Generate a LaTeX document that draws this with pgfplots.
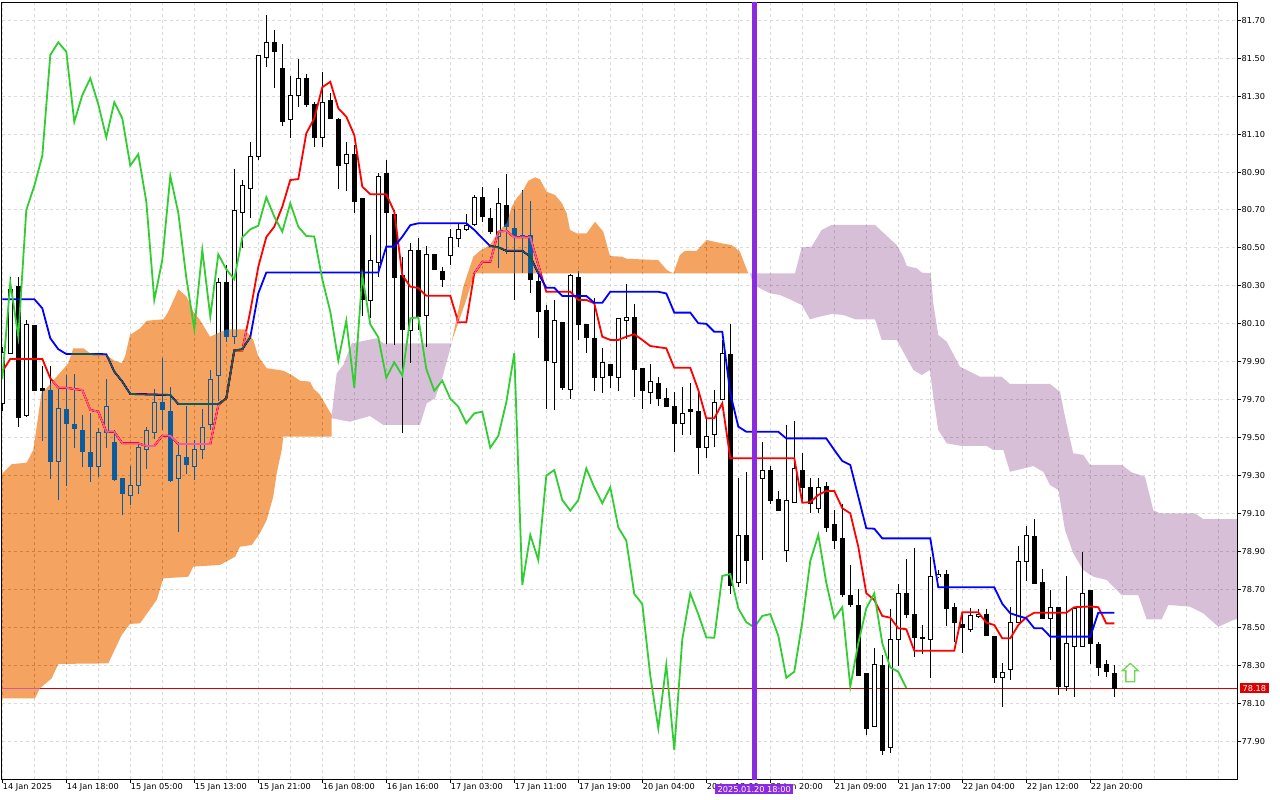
\documentclass[border=0pt]{standalone}
\usepackage{fontspec}
\setmainfont{DejaVu Sans}
\usepackage{pgfplots}
\usepackage{pgfplotstable}
\pgfplotsset{compat=1.18}
\definecolor{xorange}{RGB}{11,91,159}
\definecolor{thistle}{RGB}{216,191,216}
\definecolor{chik}{RGB}{50,205,50}
\definecolor{bviolet}{RGB}{138,43,226}
\definecolor{bidred}{RGB}{220,0,0}
\definecolor{gridc}{RGB}{218,218,218}
\definecolor{arrowc}{RGB}{110,215,80}
\newcommand{\lblfont}{\fontsize{8.2bp}{9bp}\selectfont}

\pgfplotstableread{
k o h l c
0 79.68 79.98 79.64 79.95
1 79.945 80.348 79.94 80.28
2 80.299 80.348 79.558 79.607
3 79.616 80.12 79.61 80.097
4 80.089 80.097 79.75 79.751
5 79.76 79.878 79.482 79.751
6 79.751 79.878 79.286 79.373
7 79.373 79.76 79.171 79.655
8 79.651 79.83 79.245 79.576
9 79.567 79.839 79.447 79.549
10 79.54 79.619 79.347 79.426
11 79.421 79.632 79.268 79.347
12 79.347 79.55 79.294 79.528
13 79.526 79.81 79.444 79.667
14 79.475 79.54 79.271 79.282
15 79.286 79.286 79.092 79.207
16 79.194 79.35 79.149 79.247
17 79.247 79.473 79.203 79.449
18 79.44 79.555 79.336 79.537
19 79.528 79.755 79.493 79.686
20 79.686 79.918 79.54 79.65
21 79.64 79.769 79.268 79.273
22 79.286 79.479 79.004 79.405
23 79.396 79.667 79.307 79.357
24 79.347 79.487 79.277 79.439
25 79.439 79.651 79.386 79.554
26 79.567 79.857 79.54 79.808
27 79.829 80.34 79.693 80.317
28 80.317 80.41 80.006 80.032
29 80.032 80.916 79.997 80.70
30 80.688 80.858 80.498 80.827
31 80.814 81.057 80.656 80.985
32 80.981 81.52 80.967 81.517
33 81.505 81.728 81.455 81.584
34 81.584 81.649 81.345 81.534
35 81.447 81.575 81.144 81.165
36 81.178 81.406 81.078 81.305
37 81.306 81.494 81.245 81.394
38 81.394 81.417 81.245 81.257
39 81.257 81.271 81.034 81.083
40 81.083 81.429 81.034 81.268
41 81.275 81.318 81.18 81.183
42 81.18 81.183 80.811 80.934
43 80.946 81.057 80.80 80.994
44 80.994 81.046 80.686 80.744
45 80.758 80.758 80.143 80.226
46 80.222 80.568 80.132 80.436
47 80.422 80.893 80.348 80.879
48 80.89 80.967 79.997 80.686
49 80.677 80.70 79.988 80.343
50 80.357 80.454 79.523 80.073
51 80.067 80.524 79.892 80.489
52 80.489 80.556 80.067 80.138
53 80.147 80.51 79.98 80.466
54 80.466 80.466 80.387 80.387
55 80.378 80.401 80.296 80.335
56 80.458 80.598 80.41 80.556
57 80.551 80.626 80.507 80.598
58 80.60 80.683 80.59 80.617
59 80.626 80.779 80.616 80.767
60 80.767 80.82 80.635 80.665
61 80.656 80.714 80.574 80.586
62 80.559 80.814 80.393 80.735
63 80.726 80.89 80.468 80.612
64 80.604 80.704 80.226 80.563
65 80.565 80.805 80.366 80.56
66 80.568 80.749 80.264 80.335
67 80.326 80.357 80.027 80.164
68 80.168 80.199 79.651 79.906
69 79.897 80.226 79.646 80.116
70 80.108 80.11 79.751 79.763
71 79.755 80.366 79.704 80.354
72 80.345 80.38 80.015 80.097
73 80.099 80.10 79.945 80.029
74 80.02 80.235 79.747 79.816
75 79.818 79.976 79.737 79.897
76 79.888 79.89 79.763 79.827
77 79.818 80.129 79.747 80.129
78 80.12 80.31 80.02 80.134
79 80.134 80.208 79.716 79.862
80 79.865 79.866 79.655 79.747
81 79.739 79.888 79.677 79.80
82 79.786 79.818 79.668 79.705
83 79.707 79.765 79.663 79.663
84 79.663 79.742 79.426 79.576
85 79.576 79.769 79.514 79.628
86 79.649 79.79 79.514 79.637
87 79.637 79.751 79.308 79.447
88 79.449 79.602 79.396 79.509
89 79.518 79.751 79.449 79.686
90 79.70 80.015 79.70 79.945
91 79.939 80.099 78.676 78.723
92 78.735 79.289 78.714 78.987
93 78.987 79.32 78.732 78.855
94 78.855 79.35 78.80 79.30
95 79.286 79.479 78.855 79.329
96 79.329 79.352 79.149 79.171
97 79.176 79.219 79.115 79.115
98 78.908 79.567 78.846 79.171
99 79.157 79.589 79.157 79.338
100 79.329 79.417 79.154 79.238
101 79.238 79.286 79.104 79.154
102 79.128 79.286 79.101 79.238
103 79.241 79.268 79.004 79.027
104 79.04 79.119 78.913 78.957
105 78.969 79.149 78.658 78.676
106 78.67 78.829 78.606 78.623
107 78.618 78.706 78.245 78.245
108 78.258 78.258 77.933 77.968
109 77.976 78.39 77.976 78.302
110 78.302 78.354 77.827 77.853
111 77.866 78.60 77.839 78.437
112 78.437 78.727 78.296 78.679
113 78.679 78.859 78.551 78.569
114 78.569 78.917 78.345 78.447
115 78.447 78.512 78.363 78.445
116 78.437 78.872 78.234 78.771
117 78.767 78.802 78.76 78.781
118 78.781 78.802 78.507 78.60
119 78.606 78.627 78.424 78.527
120 78.518 78.583 78.368 78.50
121 78.49 78.60 78.477 78.56
122 78.556 78.60 78.55 78.57
123 78.57 78.595 78.456 78.456
124 78.451 78.451 78.208 78.234
125 78.237 78.31 78.079 78.266
126 78.279 78.606 78.222 78.527
127 78.527 78.929 78.527 78.85
128 78.846 79.034 78.746 78.987
129 78.982 79.069 78.735 78.735
130 78.737 78.806 78.548 78.548
131 78.548 78.70 78.328 78.606
132 78.606 78.606 78.147 78.187
133 78.187 78.771 78.164 78.416
134 78.398 78.60 78.134 78.60
135 78.398 78.899 78.398 78.679
136 78.692 78.692 78.307 78.416
137 78.411 78.424 78.245 78.289
138 78.302 78.328 78.24 78.266
139 78.258 78.302 78.134 78.18
}\candles

\pgfplotstableread{
k v
0 79.808
1 80.317
2 80.032
3 80.70
4 80.827
5 80.985
6 81.517
7 81.584
8 81.534
9 81.165
10 81.305
11 81.394
12 81.257
13 81.083
14 81.268
15 81.183
16 80.934
17 80.994
18 80.744
19 80.226
20 80.436
21 80.879
22 80.686
23 80.343
24 80.073
25 80.489
26 80.138
27 80.466
28 80.387
29 80.335
30 80.556
31 80.598
32 80.617
33 80.767
34 80.665
35 80.586
36 80.735
37 80.612
38 80.563
39 80.56
40 80.335
41 80.164
42 79.906
43 80.116
44 79.763
45 80.354
46 80.097
47 80.029
48 79.816
49 79.897
50 79.827
51 80.129
52 80.134
53 79.862
54 79.747
55 79.80
56 79.705
57 79.663
58 79.576
59 79.628
60 79.637
61 79.447
62 79.509
63 79.686
64 79.945
65 78.723
66 78.987
67 78.855
68 79.30
69 79.329
70 79.171
71 79.115
72 79.171
73 79.338
74 79.238
75 79.154
76 79.238
77 79.027
78 78.957
79 78.676
80 78.623
81 78.245
82 77.968
83 78.302
84 77.853
85 78.437
86 78.679
87 78.569
88 78.447
89 78.445
90 78.771
91 78.781
92 78.60
93 78.527
94 78.50
95 78.56
96 78.57
97 78.456
98 78.234
99 78.266
100 78.527
101 78.85
102 78.987
103 78.735
104 78.548
105 78.606
106 78.187
107 78.416
108 78.60
109 78.679
110 78.416
111 78.289
112 78.266
113 78.18
}\chikou

\begin{document}
\begin{tikzpicture}
\useasboundingbox (0,0) rectangle (1280bp,800bp);
\fill[white] (0,0) rectangle (1280bp,800bp);
\begin{axis}[
  at={(2bp,21bp)}, anchor=south west,
  scale only axis, width=1235bp, height=776.7bp,
  xmin=-0.0375, xmax=154.34, ymin=77.7005, ymax=81.7949,
  clip mode=individual,
  axis line style={black, line width=1bp},
  tick style={black, line width=1bp},
  tick align=outside, major tick length=4bp, minor tick length=0pt,
  xtick pos=bottom, ytick pos=right,
  xticklabel pos=bottom, yticklabel pos=right,
  xtick={0,8,...,136},
  xticklabels={14 Jan 2025,14 Jan 18:00,15 Jan 05:00,15 Jan 13:00,15 Jan 21:00,16 Jan 08:00,16 Jan 16:00,17 Jan 03:00,17 Jan 11:00,17 Jan 19:00,20 Jan 04:00,20 Jan 12:00,20 Jan 20:00,21 Jan 09:00,21 Jan 17:00,22 Jan 04:00,22 Jan 12:00,22 Jan 20:00},
  minor xtick={4,12,...,148,144,152},
  ytick={77.9,78.1,78.3,78.5,78.7,78.9,79.1,79.3,79.5,79.7,79.9,80.1,80.3,80.5,80.7,80.9,81.1,81.3,81.5,81.7},
  grid=both,
  major grid style={gridc, dash pattern=on 3bp off 3bp, line width=1bp},
  minor grid style={gridc, dash pattern=on 3bp off 3bp, line width=1bp},
  xticklabel style={anchor=north west, inner sep=0pt, xshift=0.4bp, font=\lblfont},
  yticklabel style={anchor=west, inner sep=0pt, xshift=0.5bp, font=\lblfont},
  /pgf/number format/fixed, /pgf/number format/fixed zerofill,
  /pgf/number format/precision=2, /pgf/number format/assume math mode=true,
]
% --- bearish-span cloud (thistle) ---
\addplot [draw=none, fill=thistle, blend mode=multiply] coordinates {
(41.175,79.619)(41.8,79.839)(42.625,79.883)(43.675,79.997)(46.8,80.024)(47.625,79.997)(56.175,79.997)
(54.925,79.804)(54.09,79.707)(53.05,79.681)(52.21,79.567)(47.625,79.567)(45.96,79.614)(43.46,79.584)(41.175,79.602)};
\addplot [draw=none, fill=thistle, blend mode=multiply] coordinates {
(93.25,80.366)(99.09,80.366)(99.925,80.503)(101.175,80.507)(102.425,80.595)(103.675,80.621)(109.09,80.621)
(111.8,80.515)(112.625,80.454)(113.05,80.405)(114.3,80.393)(114.925,80.37)(116.05,80.366)(116.375,80.208)
(117.0,80.041)(118.05,80.006)(119.71,79.874)(121.375,79.839)(122.21,79.821)(124.925,79.821)(125.96,79.783)
(130.96,79.783)(132.21,79.742)(132.84,79.61)(133.875,79.417)(135.125,79.409)(135.96,79.356)(139.925,79.356)
(141.175,79.317)(142.84,79.294)(143.875,79.118)(144.71,79.101)(149.09,79.101)(150.125,79.07)(154.7,79.07)
(154.7,78.548)(153.875,78.539)(152.0,78.503)(150.125,78.574)(148.46,78.609)(145.75,78.618)(144.925,78.542)
(143.05,78.542)(142.0,78.67)(139.925,78.67)(138.05,78.75)(136.375,78.767)(135.125,78.802)(133.875,78.89)
(132.84,79.013)(132.0,79.224)(130.96,79.25)(130.125,79.32)(128.875,79.35)(125.96,79.32)(125.125,79.435)
(123.875,79.435)(123.05,79.456)(119.925,79.456)(118.05,79.47)(117.0,79.54)(116.375,79.716)(115.96,79.857)
(114.925,79.83)(113.875,79.857)(111.8,80.015)(109.925,80.015)(109.09,80.124)(106.59,80.124)(105.125,80.147)
(103.675,80.152)(102.21,80.138)(100.96,80.124)(99.925,80.199)(98.46,80.229)(97.21,80.252)(95.96,80.261)
(94.71,80.287)(93.875,80.305)(93.46,80.366)};
% --- bid line ---
\addplot [bidred, line width=1bp] coordinates {(-1,78.18) (160,78.18)};
% --- candles: wicks ---
\addplot [draw=none, mark=none, error bars/.cd, y dir=both, y explicit, error mark=none,
  error bar style={draw=black, line width=1bp}]
  table [x=k, y expr={(\thisrow{h}+\thisrow{l})/2}, y error expr={(\thisrow{h}-\thisrow{l})/2}] {\candles};
% --- candles: bodies (outline / black body) ---
\addplot [draw=none, mark=none, error bars/.cd, y dir=both, y explicit, error mark=none,
  error bar style={draw=black, line width=5bp}]
  table [x=k, y expr={(\thisrow{o}+\thisrow{c})/2}, y error expr={abs(\thisrow{c}-\thisrow{o})/2+0.00264}] {\candles};
% --- candles: white interior of bullish bodies ---
\addplot [draw=none, mark=none, restrict expr to domain={\thisrow{c}-\thisrow{o}}{0.006:10},
  error bars/.cd, y dir=both, y explicit, error mark=none,
  error bar style={draw=white, line width=3bp}]
  table [x=k, y expr={(\thisrow{o}+\thisrow{c})/2}, y error expr={(\thisrow{c}-\thisrow{o})/2-0.00264}] {\candles};
% --- Tenkan-sen ---
\addplot [red, line width=1.8bp] coordinates {
(0,79.848)(1,79.915)(5,79.915)(6,79.813)(7,79.763)(8,79.763)(9,79.756)(10,79.751)(11,79.646)(12,79.637)(13,79.531)(14,79.531)(15,79.47)(17,79.47)(18,79.456)(19,79.456)(20,79.51)(21,79.51)(22,79.466)(26,79.466)(27,79.672)(28,79.707)(29,79.96)(30,79.96)(31,80.167)(32,80.40)(33,80.557)(34,80.612)(35,80.717)(36,80.858)(37,80.863)(38,81.104)(39,81.183)(40,81.347)(41,81.376)(42,81.236)(43,81.192)(44,81.095)(45,80.823)(46,80.783)(48,80.783)(49,80.691)(50,80.357)(51,80.296)(52,80.289)(53,80.248)(56,80.248)(57,80.108)(58,80.108)(59,80.366)(60,80.427)(61,80.427)(62,80.586)(63,80.59)(64,80.556)(66,80.556)(67,80.41)(68,80.269)(71,80.269)(72,80.226)(73,80.226)(74,80.208)(75,80.032)(76,80.015)(77,80.015)(78,80.032)(79,80.045)(80,80.015)(81,79.983)(82,79.977)(83,79.971)(84,79.868)(86,79.868)(87,79.751)(88,79.602)(89,79.602)(90,79.681)(91,79.391)(99,79.391)(100,79.157)(101,79.16)(102,79.198)(103,79.219)(104,79.219)(105,79.128)(106,79.101)(107,78.925)(108,78.68)(109,78.644)(110,78.56)(111,78.551)(112,78.495)(113,78.49)(114,78.377)(119,78.377)(120,78.579)(122,78.579)(123,78.525)(124,78.512)(125,78.442)(126,78.442)(127,78.512)(128,78.553)(129,78.577)(133,78.577)(134,78.606)(136,78.61)(137,78.606)(138,78.521)(139,78.521)};
% --- Kijun-sen ---
\addplot [blue, line width=1.8bp] coordinates {
(0,80.23)(4,80.23)(5,80.182)(6,80.024)(7,79.966)(8,79.941)(13,79.94)(14,79.848)(15,79.795)(16,79.73)(21,79.725)(22,79.677)(27,79.677)(28,79.707)(29,79.96)(30,79.966)(31,80.03)(32,80.261)(33,80.37)(47,80.37)(48,80.507)(49,80.507)(50,80.559)(51,80.62)(52,80.63)(58,80.63)(59,80.595)(60,80.551)(61,80.51)(62,80.503)(63,80.485)(65,80.485)(66,80.454)(67,80.366)(68,80.29)(69,80.29)(70,80.247)(73,80.247)(74,80.211)(75,80.211)(76,80.269)(82,80.269)(83,80.26)(84,80.159)(86,80.159)(87,80.103)(88,80.10)(89,80.058)(90,80.058)(91,79.734)(92,79.558)(93,79.531)(97,79.531)(98,79.496)(103,79.496)(104,79.435)(105,79.377)(106,79.356)(107,79.189)(108,79.022)(109,79.02)(110,78.969)(116,78.969)(117,78.711)(124,78.711)(125,78.624)(126,78.574)(127,78.56)(128,78.548)(129,78.495)(130,78.495)(131,78.451)(136,78.451)(137,78.577)(139,78.577)};
% --- bullish-span cloud (sandy brown), drawn as XOR-like difference ---
\addplot [draw=none, fill=xorange, blend mode=difference] coordinates {
(-0.2,79.312)(0.05,79.312)(1.175,79.36)(3.05,79.368)(3.875,79.435)(4.3,79.558)(4.925,79.742)(5.34,79.751)
(8.25,79.892)(8.875,79.971)(10.125,79.971)(10.96,79.945)(13.05,79.936)(13.875,79.909)(14.925,79.892)
(15.34,79.927)(15.96,80.041)(17.21,80.076)(18.05,80.116)(20.125,80.124)(20.75,80.164)(22.0,80.282)
(23.05,80.243)(23.875,80.164)(24.71,80.12)(25.96,80.032)(28.05,80.071)(30.34,80.071)(31.375,80.015)
(32.0,79.927)(33.05,79.866)(35.125,79.853)(36.175,79.83)(37.21,79.80)(38.46,79.795)(38.875,79.76)
(39.71,79.725)(41.175,79.619)(41.175,79.505)(35.125,79.505)(34.925,79.435)(34.3,79.312)(33.875,79.189)
(33.05,79.066)(32.21,78.996)(31.175,78.934)(29.71,78.925)(29.09,78.872)(27.21,78.829)(23.875,78.82)
(23.25,78.767)(20.125,78.758)(19.3,78.644)(17.21,78.521)(15.96,78.518)(14.925,78.46)(13.25,78.31)
(7.0,78.307)(6.175,78.231)(4.71,78.179)(4.09,78.126)(0.05,78.126)(-0.2,78.126)};
\addplot [draw=none, fill=xorange, blend mode=difference] coordinates {
(56.175,80.006)(57.625,80.296)(58.875,80.454)(59.71,80.485)(60.96,80.515)(62.0,80.586)(63.05,80.63)
(63.675,80.717)(64.3,80.762)(65.125,80.805)(65.75,80.854)(66.59,80.872)(67.21,80.862)(68.05,80.796)
(69.09,80.779)(69.925,80.738)(70.55,80.683)(70.96,80.595)(71.8,80.577)(73.05,80.577)(74.09,80.638)
(75.125,80.586)(75.96,80.457)(77.425,80.454)(78.05,80.443)(82.0,80.436)(83.05,80.384)(83.875,80.366)
(84.71,80.463)(85.34,80.485)(86.8,80.485)(88.05,80.542)(89.925,80.524)(91.175,80.515)(92.21,80.48)
(93.25,80.366)(59.0,80.366)(58.0,80.226)};
% --- Chikou span ---
\addplot [chik, line width=1.8bp] table [x=k, y=v] {\chikou};
% --- vertical line ---
\addplot [bviolet, line width=5bp] coordinates {(94,77.6) (94,81.9)};
% --- arrow ---
\addplot [draw=arrowc, fill=white, line width=1.3bp] coordinates {
(141.0,78.310)(142.0,78.271)(141.55,78.271)(141.55,78.213)(140.45,78.213)(140.45,78.271)(140.0,78.271)(141.0,78.310)};
\node [fill=bidred, text=white, anchor=west, inner xsep=3bp, inner ysep=2bp, font=\lblfont]
  at (axis cs:154.34,78.18) [xshift=2.5bp] {78.18};
\coordinate (dbox) at (axis cs:94,77.7005);
\end{axis}
\node [fill=bviolet, text=white, anchor=north, inner xsep=2.3bp, inner ysep=2.1bp, font=\lblfont]
  at (dbox) [yshift=-4.7bp] {2025.01.20 18:00};
\end{tikzpicture}
\end{document}
